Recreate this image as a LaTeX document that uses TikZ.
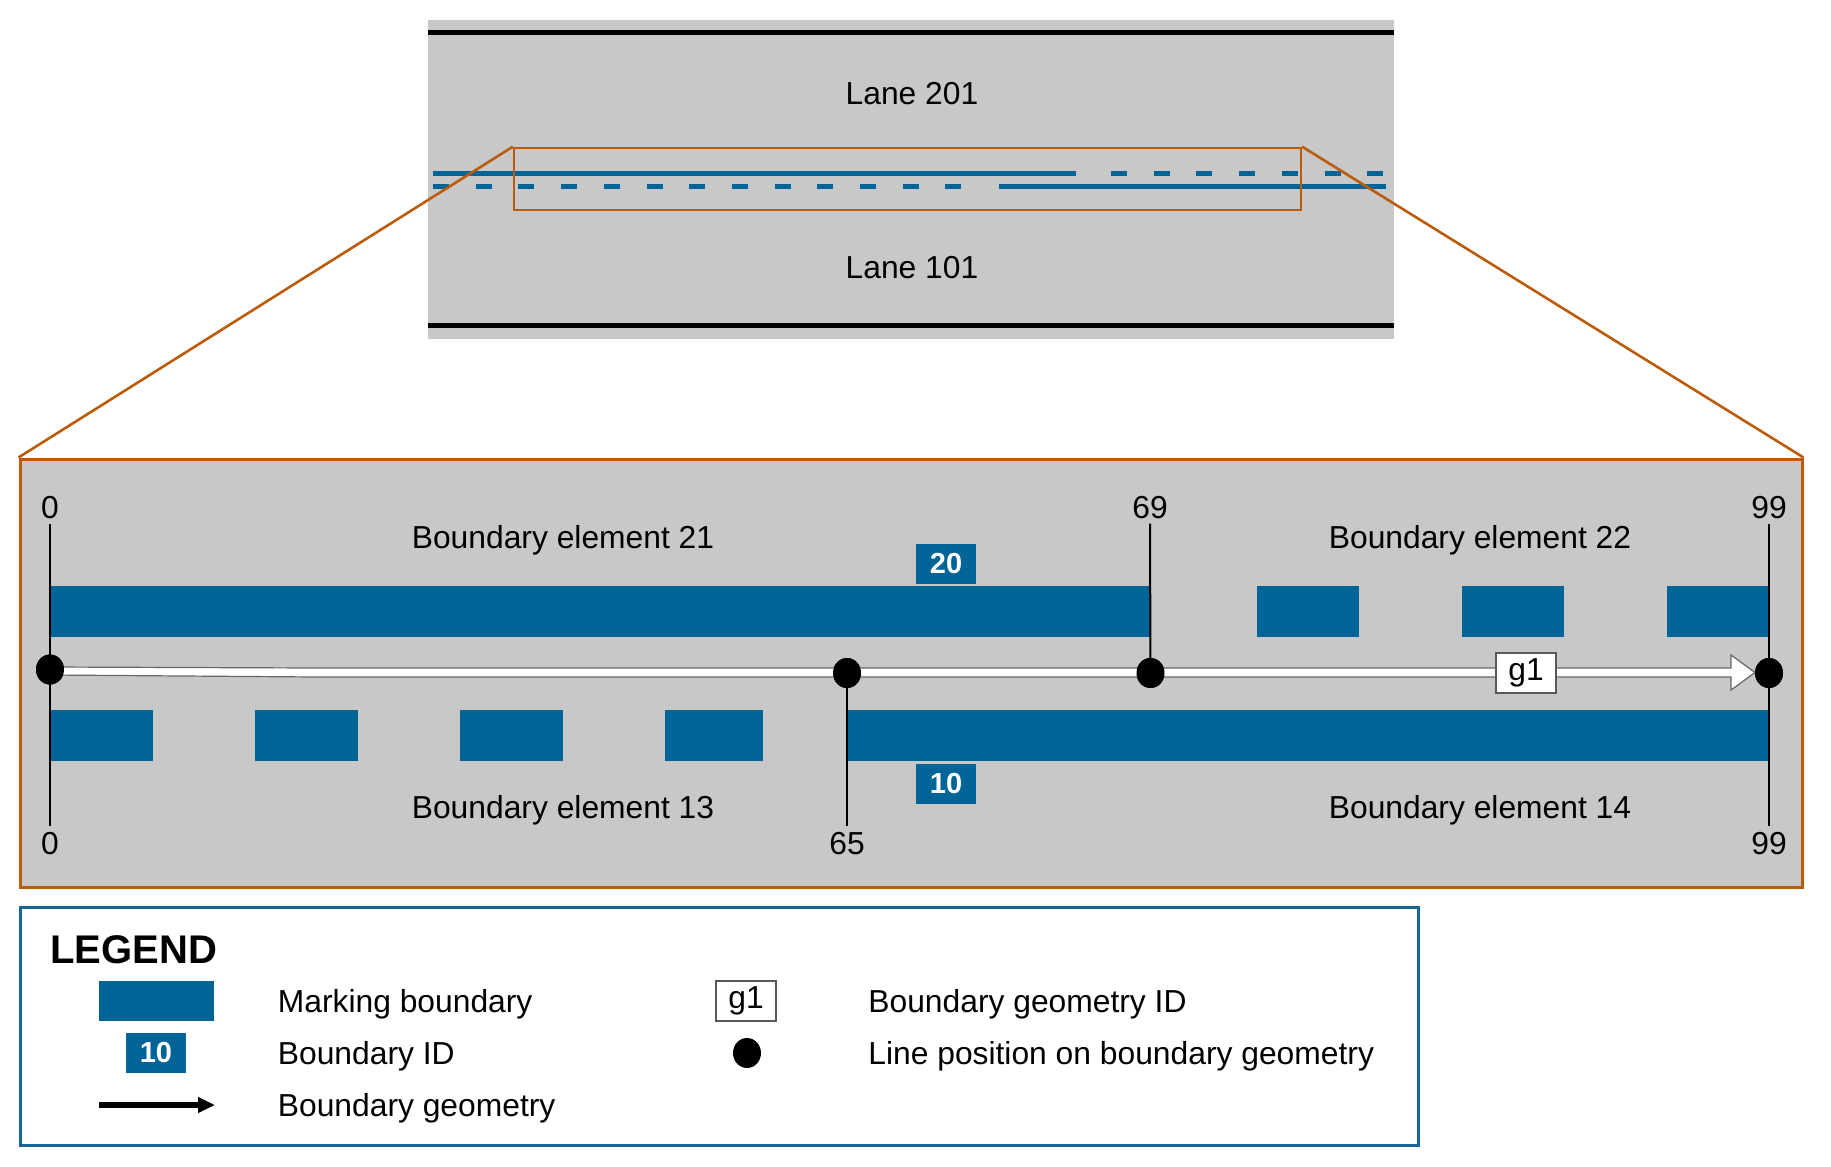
\documentclass[tikz,border=0pt]{standalone}
\usepackage{fontspec}
\setmainfont{Liberation Sans}
\usepackage{tikz}
\usetikzlibrary{arrows.meta,shapes.geometric}

\definecolor{markblue}{RGB}{0,100,150}
\definecolor{roadgray}{RGB}{200,200,200}
\definecolor{zoomorange}{RGB}{186,92,10}
\definecolor{legendblue}{RGB}{25,100,150}

\tikzset{
  txt/.style={font=\fontsize{15.9}{18}\selectfont, inner sep=0pt, anchor=base},
  legtxt/.style={font=\fontsize{15.9}{18}\selectfont, inner sep=0pt, anchor=base west},
  posnum/.style={font=\fontsize{15.9}{18}\selectfont, inner sep=2.5pt, anchor=base},
  idbox/.style={fill=markblue, text=white, font=\bfseries\fontsize{14.5}{16}\selectfont, minimum width=30pt, minimum height=20pt, inner sep=0pt},
  geombox/.style={fill=white, draw=black!65, line width=0.7pt, font=\fontsize{15.9}{18}\selectfont, minimum width=30pt, minimum height=20pt, inner sep=0pt},
  posdot/.style={ellipse, fill=black, minimum width=14pt, minimum height=15pt, inner sep=0pt},
  posline/.style={black, line width=1pt},
  laneline/.style={markblue, line width=2.5pt},
  lanedash/.style={markblue, line width=2.5pt, dash pattern=on 8pt off 13.35pt},
  zoomline/.style={zoomorange, line width=1.3pt},
}

\begin{document}
\begin{tikzpicture}[x=0.5pt,y=0.5pt,yscale=-1,xscale=1]
        \useasboundingbox (0,0) rectangle (1831,1167);

        %Road overview
        \fill[roadgray] (428,20) rectangle (1394,339);
        \draw[line width=2.5pt] (428,32.5) -- (1394,32.5);
        \draw[line width=2.5pt] (428,325) -- (1394,325);
        %Lane lines
        \draw[laneline] (433,173) -- (1076,173);
        \draw[lanedash] (1111,173) -- (1383,173);
        \draw[lanedash] (433,186) -- (961,186);
        \draw[laneline] (999,186) -- (1386,186);
        % Text Node
        \node[txt] (lane201) at (912,104) {Lane 201};
        % Text Node
        \node[txt] (lane101) at (912,278) {Lane 101};

        %Zoom frames
        \node[draw=zoomorange, line width=1.5pt, fill=roadgray, minimum width=891pt, minimum height=214pt, inner sep=0pt] (zbig) at (911,673) {};
        \node[draw=zoomorange, line width=1.25pt, minimum width=393.5pt, minimum height=31pt, inner sep=0pt] (zsmall) at (907.5,179) {};
        \draw[zoomline] (zsmall.north west) -- (zbig.north west);
        \draw[zoomline] (zsmall.north east) -- (zbig.north east);

        %Boundary 20 (upper)
        \fill[markblue] (50,586) rectangle (1150,637);
        \fill[markblue] (1257,586) rectangle (1359,637);
        \fill[markblue] (1462,586) rectangle (1564,637);
        \fill[markblue] (1667,586) rectangle (1769,637);
        %Boundary 10 (lower)
        \fill[markblue] (50,710) rectangle (153,761);
        \fill[markblue] (255,710) rectangle (358,761);
        \fill[markblue] (460,710) rectangle (563,761);
        \fill[markblue] (665,710) rectangle (763,761);
        \fill[markblue] (847,710) rectangle (1769,761);

        % Position numbers
        \node[posnum] (n0t) at (50,518) {0};
        \node[posnum] (n69t) at (1150,518) {69};
        \node[posnum] (n99t) at (1769,518) {99};
        \node[posnum] (n0b) at (50,854) {0};
        \node[posnum] (n65b) at (847,854) {65};
        \node[posnum] (n99b) at (1769,854) {99};

        % Line positions
        \node[posdot] (p0) at (50,669.5) {};
        \node[posdot] (p65) at (847,673) {};
        \node[posdot] (p69) at (1150.5,673) {};
        \node[posdot] (p99) at (1769,673) {};

        %Straight Lines
        \draw[posline] (n0t.south) -- (n0b.north);
        \draw[posline] (n69t.south) -- (p69.center);
        \draw[posline] (p65.center) -- (n65b.north);
        \draw[posline] (n99t.south) -- (n99b.north);

        %Boundary geometry g1
        \draw[fill=white, draw=black!60, line width=0.6pt] (50,667) -- (316,668) -- (1731,668) -- (1731,655) -- (1755,672.5) -- (1731,690) -- (1731,677) -- (316,677) -- (50,675) -- cycle;
        \node[posdot] at (p0) {};
        \node[posdot] at (p65) {};
        \node[posdot] at (p69) {};
        \node[posdot] at (p99) {};
        \node[geombox] (g1) at (1526,673) {g1};

        % Boundary IDs
        \node[idbox] (id20) at (946,563.5) {20};
        \node[idbox] (id10) at (946,784) {10};

        % Text Node
        \node[txt] (be21) at (563,548) {Boundary element 21};
        % Text Node
        \node[txt] (be22) at (1480,548) {Boundary element 22};
        % Text Node
        \node[txt] (be13) at (563,818) {Boundary element 13};
        % Text Node
        \node[txt] (be14) at (1480,818) {Boundary element 14};

        %Legend
        \draw[legendblue, line width=1.5pt] (20,907) rectangle (1418,1145);
        \node[anchor=base west, inner sep=0pt, font=\bfseries\fontsize{20}{22}\selectfont] (legtitle) at (50,963) {LEGEND};
        \fill[markblue] (99,981) rectangle (214,1021);
        \node[legtxt] (legmark) at (277.5,1012) {Marking boundary};
        \node[idbox] (legid) at (156,1053) {10};
        \node[legtxt] (legidtxt) at (277.5,1064) {Boundary ID};
        \coordinate (la0) at (99,1105);
        \coordinate (la1) at (215,1105);
        \draw[line width=3pt, -{Triangle[length=8.5pt,width=7.5pt]}] (la0) -- (la1);
        \node[legtxt] (leggeom) at (277.5,1116) {Boundary geometry};
        \node[geombox] (legg1) at (746,1001) {g1};
        \node[legtxt] (legg1txt) at (868,1012) {Boundary geometry ID};
        \node[posdot] (legdot) at (747,1053) {};
        \node[legtxt] (legdottxt) at (868,1064) {Line position on boundary geometry};
\end{tikzpicture}
\end{document}
